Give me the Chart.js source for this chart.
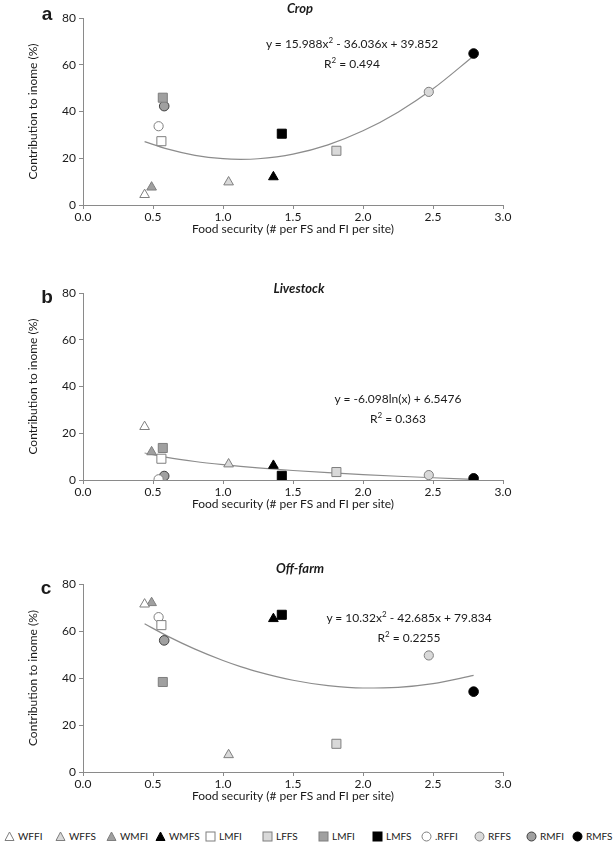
<!DOCTYPE html>
<html>
<head>
<meta charset="utf-8">
<script src="https://cdn.jsdelivr.net/npm/chart.js@4.4.0/dist/chart.umd.min.js"></script>
<style>
  body { margin: 0; background: #fff; width: 614px; height: 852px; position: relative; overflow: hidden; font-family: Lato, sans-serif; color: #1a1a1a; }
  canvas { position: absolute; left: 0; }
  .t { position: absolute; white-space: nowrap; transform: translate(-50%, -50%); }
  .title { font-weight: bold; font-style: italic; font-size: 13px; }
  .eq { font-size: 12px; text-align: center; line-height: 16px; }
  .letter { font-family: 'Liberation Sans', Arial, sans-serif; font-weight: bold; font-size: 19px; }
  .item { position: absolute; top: 830px; font-size: 10px; display: flex; align-items: center; gap: 3px; }
</style>
</head>
<body>

<canvas id="crop" width="614" height="235" style="top:0px"></canvas>
<canvas id="livestock" width="614" height="240" style="top:270px"></canvas>
<canvas id="offfarm" width="614" height="242" style="top:560px"></canvas>

<div class="t letter" style="left:47px;top:14px">a</div>
<div class="t letter" style="left:47px;top:297px">b</div>
<div class="t letter" style="left:46px;top:588px">c</div>

<div class="t title" style="left:300px;top:8px">Crop</div>
<div class="t title" style="left:299px;top:288px">Livestock</div>
<div class="t title" style="left:300px;top:568px">Off-farm</div>

<div class="t eq" style="left:352px;top:52px">y = 15.988x<sup style="font-size:8px">2</sup> - 36.036x + 39.852<br>R<sup style="font-size:8px">2</sup> = 0.494</div>
<div class="t eq" style="left:398px;top:409px">y = -6.098ln(x) + 6.5476<br>R<sup style="font-size:8px">2</sup> = 0.363</div>
<div class="t eq" style="left:409px;top:626px">y = 10.32x<sup style="font-size:8px">2</sup> - 42.685x + 79.834<br>R<sup style="font-size:8px">2</sup> = 0.2255</div>

<div id="legend"></div>

<script>
// groups (site + wealth + food security status)
const groups = ['WFFI', 'WFFS', 'WMFI', 'WMFS', 'LMFI', 'LFFS', 'LMFI', 'LMFS', '.RFFI', 'RFFS', 'RMFI', 'RMFS'];

// food security (# per FS and FI per site)
const foodSecurity = [0.44, 1.04, 0.49, 1.36, 0.56, 1.81, 0.57, 1.42, 0.54, 2.47, 0.58, 2.79];

// contribution to income (%)
const cropShare      = [4.4, 9.8, 7.6, 12.0, 27.3, 23.2, 45.9, 30.5, 33.7, 48.4, 42.3, 64.8];
const livestockShare = [22.8, 6.8, 12.0, 6.2, 9.1, 3.4, 13.7, 1.8, 0.3, 2.1, 1.7, 0.7];
const offFarmShare   = [71.4, 7.3, 72.0, 65.2, 62.5, 12.0, 38.3, 66.9, 65.9, 49.6, 56.0, 34.2];

// fitted trend curves
const trendX         = [0.44, 0.6, 0.8, 1.0, 1.125, 1.25, 1.5, 1.75, 2.0, 2.25, 2.5, 2.79];
const cropTrend      = [27.09, 23.99, 21.26, 19.80, 19.55, 19.79, 21.77, 25.75, 31.73, 39.71, 49.69, 63.76];
const livestockTrend = [11.55, 9.66, 7.91, 6.55, 5.83, 5.19, 4.07, 3.13, 2.32, 1.60, 0.96, 0.29];
const offFarmTrend   = [63.05, 57.94, 52.29, 47.47, 44.87, 42.60, 39.03, 36.74, 35.74, 36.04, 37.62, 41.08];

const xTicks = [0, 0.5, 1, 1.5, 2, 2.5, 3];
const yTicks = [0, 20, 40, 60, 80];

// marker looks
const shapes = ['triangle', 'triangle', 'triangle', 'triangle', 'rect', 'rect', 'rect', 'rect', 'circle', 'circle', 'circle', 'circle'];
const radii  = [5.6, 5.6, 5.6, 5.6, 6.4, 6.4, 6.4, 6.4, 4.6, 4.6, 4.8, 4.8];
const fills  = ['#ffffff', '#d9d9d9', '#a0a0a0', '#000000', '#ffffff', '#d9d9d9', '#a0a0a0', '#000000', '#ffffff', '#d9d9d9', '#a0a0a0', '#000000'];
const edges  = ['#7f7f7f', '#7f7f7f', '#7f7f7f', '#000000', '#7f7f7f', '#7f7f7f', '#7f7f7f', '#000000', '#7f7f7f', '#7f7f7f', '#404040', '#000000'];

const axisGray = '#8a8a8a';
const tickFont = { family: 'Lato', size: 12, lineHeight: 1 };

function makePanel(id, values, trend, padTop) {
  const sets = groups.map((g, i) => ({
    label: g,
    data: [{ x: foodSecurity[i], y: values[i] }],
    pointStyle: shapes[i],
    pointRadius: radii[i],
    backgroundColor: fills[i],
    borderColor: edges[i],
    borderWidth: 1,
    order: 1
  }));
  sets.push({
    type: 'line',
    label: 'trend',
    data: trendX.map((x, i) => ({ x: x, y: trend[i] })),
    borderColor: '#8c8c8c',
    borderWidth: 1.2,
    pointRadius: 0,
    cubicInterpolationMode: 'monotone',
    fill: false,
    order: 2
  });

  return new Chart(document.getElementById(id), {
    type: 'scatter',
    data: { datasets: sets },
    options: {
      responsive: false,
      animation: false,
      events: [],
      layout: { padding: { top: padTop, left: 26, right: 111, bottom: 0 } },
      plugins: { legend: { display: false }, tooltip: { enabled: false } },
      scales: {
        x: {
          type: 'linear', min: 0, max: 3,
          afterBuildTicks: s => { s.ticks = xTicks.map(v => ({ value: v })); },
          afterFit: s => { s.height = 30; },
          ticks: { callback: v => v.toFixed(1), font: tickFont, color: '#1a1a1a', padding: 2 },
          grid: { drawOnChartArea: false, tickLength: 4, color: axisGray },
          border: { color: axisGray },
          title: { display: true, text: 'Food security (# per FS and FI per site)', font: { family: 'Lato', size: 12, lineHeight: 1 }, color: '#1a1a1a', padding: { top: 0, bottom: 0 } }
        },
        y: {
          min: 0, max: 80,
          afterBuildTicks: s => { s.ticks = yTicks.map(v => ({ value: v })); },
          afterFit: s => { s.width = 57; },
          ticks: { font: tickFont, color: '#1a1a1a', padding: 3 },
          grid: { drawOnChartArea: false, tickLength: 4, color: axisGray },
          border: { color: axisGray },
          title: { display: true, text: 'Contribution to inome (%)', font: { family: 'Lato', size: 12 }, color: '#1a1a1a', padding: { top: 0, bottom: 4 } }
        }
      }
    }
  });
}

makePanel('crop', cropShare, cropTrend, 18);
makePanel('livestock', livestockShare, livestockTrend, 23);
makePanel('offfarm', offFarmShare, offFarmTrend, 24);

// shared legend
const legendLeft = [4, 55, 106, 155, 205, 262, 318, 372, 421, 474, 526, 572];
function markerSvg(i) {
  const f = fills[i], e = edges[i];
  let shape;
  if (shapes[i] === 'triangle') shape = `<polygon points="5.5,1 10,9.5 1,9.5" fill="${f}" stroke="${e}"/>`;
  else if (shapes[i] === 'rect') shape = `<rect x="1" y="1" width="9" height="9" fill="${f}" stroke="${e}"/>`;
  else shape = `<circle cx="5.5" cy="5.5" r="4.5" fill="${f}" stroke="${e}"/>`;
  return `<svg width="11" height="11">${shape}</svg>`;
}
const legend = document.getElementById('legend');
groups.forEach((g, i) => {
  const d = document.createElement('div');
  d.className = 'item';
  d.style.left = legendLeft[i] + 'px';
  d.innerHTML = markerSvg(i) + '<span>' + g + '</span>';
  legend.appendChild(d);
});
</script>
</body>
</html>
